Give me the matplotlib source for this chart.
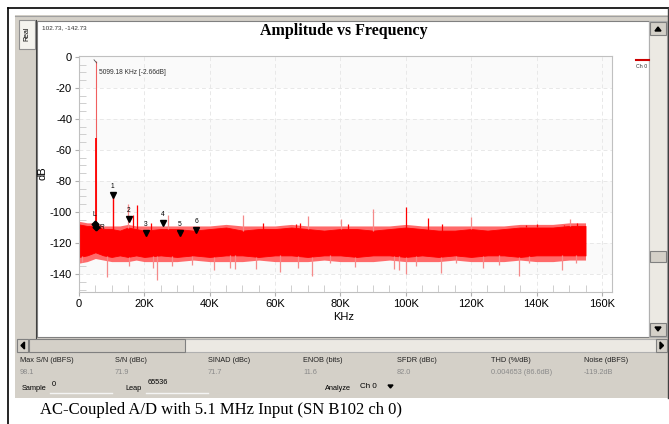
import numpy as np
import matplotlib.pyplot as plt
from matplotlib.patches import Rectangle, Polygon

plt.rcParams['axes.unicode_minus'] = False

W, H = 669, 424

# ---- data (frequency in K, level in dB) ----
fund_freq = 5.1
fund_db = -2.66
fund_skirt_db = -52.0

harm_freq = [10.27, 15.3, 20.5, 25.6, 30.8, 35.9]
harm_db = [-89.0, -104.5, -113.3, -107.3, -113.3, -111.6]
harm_labels = ['1', '2', '3', '4', '5', '6']

lr_freq = [5.0, 5.3]
lr_db = [-107.5, -109.5]
lr_labels = ['L', 'R']

# dense noise floor envelope
env_freq = [0, 2.5, 5, 7.5, 10, 12.5, 15, 17.5, 20, 25, 30, 35, 40, 45, 50, 55, 60,
            65, 70, 75, 80, 85, 90, 95, 100, 105, 110, 115, 120, 125, 130, 135,
            140, 145, 150, 155]
env_top = [-108, -109, -109, -111, -111, -112, -110, -111, -112, -111, -111, -112,
           -111, -110, -112, -111, -111, -110, -111, -112, -111, -111, -112, -111,
           -110, -111, -112, -112, -111, -112, -111, -110, -110, -110, -109, -109]
env_bot = [-129, -128, -126, -128, -129, -128, -129, -128, -129, -128, -129, -128,
           -129, -128, -128, -129, -128, -128, -129, -128, -128, -129, -128, -128,
           -129, -128, -129, -128, -129, -128, -128, -129, -128, -128, -128, -128]
# lighter fringe of the floor
fringe_top = [-106, -107, -107, -109, -109, -109, -108, -109, -109, -109, -109,
              -109, -109, -108, -109, -109, -109, -108, -109, -109, -109, -109,
              -109, -109, -108, -109, -109, -109, -109, -109, -109, -108, -108,
              -108, -107, -107]
fringe_bot = [-133, -132, -130, -131, -132, -132, -132, -131, -132, -132, -132,
              -131, -132, -132, -132, -131, -132, -132, -132, -131, -132, -132,
              -132, -131, -132, -132, -132, -131, -132, -132, -132, -131, -132,
              -132, -131, -131]

# spurs above the floor
spur_hi_freq = [17.7, 16.5, 21.9, 56.2, 66.3, 67.7, 82.4, 100.2, 106.8, 111.0,
                136.7, 140.3, 148.4, 152.5]
spur_hi_db = [-95.5, -102, -107, -107, -108, -107, -108, -96.5, -104, -108,
              -108.4, -108, -108.4, -107]
spur_lt_freq = [15.1, 27.3, 50.2, 70.0, 80.1, 90.1, 120.0, 150.2]
spur_lt_db = [-94.8, -102, -102, -102.6, -104.7, -98.3, -103, -104.7]

# spurs below the floor
dip_freq = [1.0, 8.7, 15.3, 22.6, 24.0, 28.5, 34.6, 41.4, 46.1, 47.8, 54.2, 61.6,
            67.1, 71.4, 76.8, 84.6, 96.4, 97.8, 100.2, 103.2, 110.8, 115.4, 123.5,
            128.6, 134.5, 137.8, 147.9, 152.0]
dip_db = [-132, -141.7, -135, -136, -143.8, -135, -134, -137.4, -136, -136.8, -137,
          -139, -136, -141.3, -132.7, -135.3, -136.8, -137.4, -140, -135, -139.5,
          -133, -136.3, -134, -141.3, -133, -137.4, -133]

x_ticks = [0, 20, 40, 60, 80, 100, 120, 140, 160]
x_ticklabels = ['0', '20K', '40K', '60K', '80K', '100K', '120K', '140K', '160K']
y_ticks = [0, -20, -40, -60, -80, -100, -120, -140]

stat_names = ['Max S/N (dBFS)', 'S/N (dBc)', 'SINAD (dBc)', 'ENOB (bits)',
              'SFDR (dBc)', 'THD (%/dB)', 'Noise (dBFS)']
stat_values = ['98.1', '71.9', '71.7', '11.6', '82.0', '0.004653 (86.6dB)', '-119.2dB']

RED = '#ff0000'
PINK = '#f58a8a'
GRAY = '#d4d0c8'
TRACK = '#ece9e3'
SANS = 'Liberation Sans'
SERIF = 'Liberation Serif'

fig = plt.figure(figsize=(W / 100, H / 100), dpi=100)
fig.patch.set_facecolor('white')

# ---- window chrome in pixel coordinates ----
bg = fig.add_axes([0, 0, 1, 1])
bg.set_xlim(0, W)
bg.set_ylim(H, 0)
bg.axis('off')

def box(x, y, w, h, fc, ec='none', lw=0.8, z=1):
    bg.add_patch(Rectangle((x, y), w, h, facecolor=fc, edgecolor=ec, linewidth=lw, zorder=z))

bg.plot([8, 8], [8, H], color='black', lw=1.2)
bg.plot([8, W], [8, 8], color='black', lw=1.2)
box(15, 15, W - 15, 383, GRAY)
bg.plot([15, W], [16, 16], color='#a0a0a0', lw=0.8)
box(37, 21, 612, 316, 'white', ec='#808080')
bg.plot([36, 36], [20, 338], color='#404040', lw=0.8)
box(19, 20, 16, 29, '#f4f3ee', ec='#909090', z=2)
bg.text(27, 34, 'Real', rotation=90, fontsize=5, family=SANS, ha='center', va='center', zorder=3)

# right scrollbar
box(649, 21, 18, 316, TRACK, ec='#b0b0b0')
box(650, 22, 16, 13, GRAY, ec='#808080', z=2)
bg.add_patch(Polygon([[655, 31], [661, 31], [658, 27]], color='black', zorder=3))
box(650, 323, 16, 13, GRAY, ec='#808080', z=2)
bg.add_patch(Polygon([[655, 327], [661, 327], [658, 331]], color='black', zorder=3))
box(650, 251, 16, 11, GRAY, ec='#808080', z=2)
bg.plot([W - 1.5, W - 1.5], [8, 398], color='#404040', lw=1)

# bottom scrollbar
box(17, 339, 650, 13, TRACK, ec='#b0b0b0')
box(17, 339, 11, 13, GRAY, ec='#808080', z=2)
bg.add_patch(Polygon([[24.5, 342], [24.5, 349], [21, 345.5]], color='black', zorder=3))
box(29, 339, 156, 13, GRAY, ec='#808080', z=2)
box(656, 339, 11, 13, GRAY, ec='#808080', z=2)
bg.add_patch(Polygon([[660, 342], [660, 349], [663.5, 345.5]], color='black', zorder=3))

# statistics row
stat_x = [20, 115, 208, 303, 397, 491, 584]
for sx, name, val in zip(stat_x, stat_names, stat_values):
    bg.text(sx, 361, name, fontsize=5.3, family=SANS, color='#202020', va='center')
    bg.text(sx, 372, val, fontsize=5.3, family=SANS, color='#8a8a8a', va='center')

bg.text(22, 389, 'Sample', fontsize=5.3, family=SANS, va='center')
bg.text(52, 384, '0', fontsize=5.3, family=SANS, va='center')
bg.plot([50, 112], [393, 393], color='#f4f4f4', lw=1)
bg.text(125, 389, 'Leap', fontsize=5.3, family=SANS, va='center')
bg.text(148, 383, '65536', fontsize=5.3, family=SANS, va='center')
bg.plot([146, 208], [393, 393], color='#f4f4f4', lw=1)
bg.text(325, 389, 'Analyze', fontsize=5.3, family=SANS, va='center')
bg.text(360, 386, 'Ch 0', fontsize=5.8, family=SANS, va='center')
bg.add_patch(Polygon([[388, 385], [393, 385], [390.5, 388]], color='black', zorder=3))

bg.text(40, 410, 'AC-Coupled A/D with 5.1 MHz Input (SN B102 ch 0)', fontsize=12,
        family=SERIF, va='center')

# plot panel texts
bg.text(42, 28, '102.73, -142.73', fontsize=4.6, family=SANS, color='#303030', va='center')
bg.text(344, 31, 'Amplitude vs Frequency', fontsize=11.5, family=SERIF, weight='bold',
        ha='center', va='center')
bg.plot([636, 649], [60, 60], color='#cc0000', lw=1.5)
bg.text(642, 66, 'Ch 0', fontsize=3.8, family=SANS, color='#303030', ha='center', va='center')

# ---- spectrum axes ----
L, R, T, B = 79, 612, 56, 292
ax = fig.add_axes([L / W, 1 - B / H, (R - L) / W, (B - T) / H])
ax.set_xlim(0, 163.1)
ax.set_ylim(-151.6, 0.6)
ax.set_facecolor('white')

for lo in [-20, -60, -100, -140]:
    ax.axhspan(lo, lo + 20, color='#fafafa', zorder=0, lw=0)
for yt in y_ticks[1:]:
    ax.axhline(yt, color='#e8e8e8', lw=0.7, ls=(0, (4, 3)), zorder=0.5)
for xt in x_ticks[1:]:
    ax.axvline(xt, color='#e8e8e8', lw=0.7, ls=(0, (4, 3)), zorder=0.5)

# noise floor
ax.fill_between(env_freq, fringe_top, fringe_bot, color='#ff6a6a', lw=0, zorder=1.8)
ax.fill_between(env_freq, env_top, env_bot, color=RED, lw=0.6, zorder=2)
top_at = np.interp(spur_hi_freq, env_freq, env_top)
ax.vlines(spur_hi_freq, top_at, spur_hi_db, color=RED, lw=0.9, zorder=2)
top_lt = np.interp(spur_lt_freq, env_freq, env_top)
ax.vlines(spur_lt_freq, top_lt, spur_lt_db, color=PINK, lw=0.9, zorder=2)
bot_at = np.interp(dip_freq, env_freq, env_bot)
ax.vlines(dip_freq, bot_at, dip_db, color=PINK, lw=0.9, zorder=2)

# fundamental
ax.vlines(fund_freq, -112, fund_db, color='#f06060', lw=0.8, zorder=3)
ax.vlines(fund_freq, -112, fund_skirt_db, color=RED, lw=1.3, zorder=3)
ax.plot([fund_freq - 0.5, fund_freq + 0.3], [fund_db + 0.8, fund_db - 1.2], color='#505050', lw=0.6, zorder=4)
ax.text(fund_freq + 0.9, fund_db - 7.5, '5099.18 KHz [-2.66dB]', fontsize=4.8,
        family=SANS, color='#303030', va='center')

# harmonics 1..6
ax.vlines(harm_freq[0], -112, harm_db[0], color=RED, lw=1.0, zorder=3)
ax.plot(harm_freq, harm_db, 'v', color='black', ms=5, zorder=5)
for hf, hd, hl in zip(harm_freq, harm_db, harm_labels):
    ax.text(hf, hd + 5.5, hl, fontsize=4.8, family=SANS, ha='center', va='center', zorder=5)

# L / R markers
ax.plot(lr_freq, lr_db, 'D', color='black', ms=3.5, zorder=5)
ax.text(lr_freq[0] - 0.3, lr_db[0] + 6, lr_labels[0], fontsize=4.8, family=SANS, ha='center', va='center')
ax.text(lr_freq[1] + 1.6, lr_db[1] - 0.5, lr_labels[1], fontsize=4.8, family=SANS, ha='center', va='center')

ax.set_xticks(x_ticks)
ax.set_xticklabels(x_ticklabels)
ax.set_yticks(y_ticks)
ax.set_xticks(np.arange(5, 163, 5), minor=True)
ax.set_yticks(np.arange(-150, 0, 5), minor=True)
ax.tick_params(which='major', direction='out', length=3, color='#b0b0b0', labelsize=8, pad=2)
ax.tick_params(which='minor', direction='in', length=5, color='#c8c8c8')
for lab in ax.get_xticklabels() + ax.get_yticklabels():
    lab.set_family(SANS)
for sp in ax.spines.values():
    sp.set_color('#c0c0c0')
    sp.set_linewidth(0.8)

bg.text(43, 173, 'dB', rotation=90, fontsize=8, family=SANS, ha='center', va='center')
bg.text(344, 317, 'KHz', fontsize=8, family=SANS, ha='center', va='center')

fig.savefig('out.png', dpi=100)
